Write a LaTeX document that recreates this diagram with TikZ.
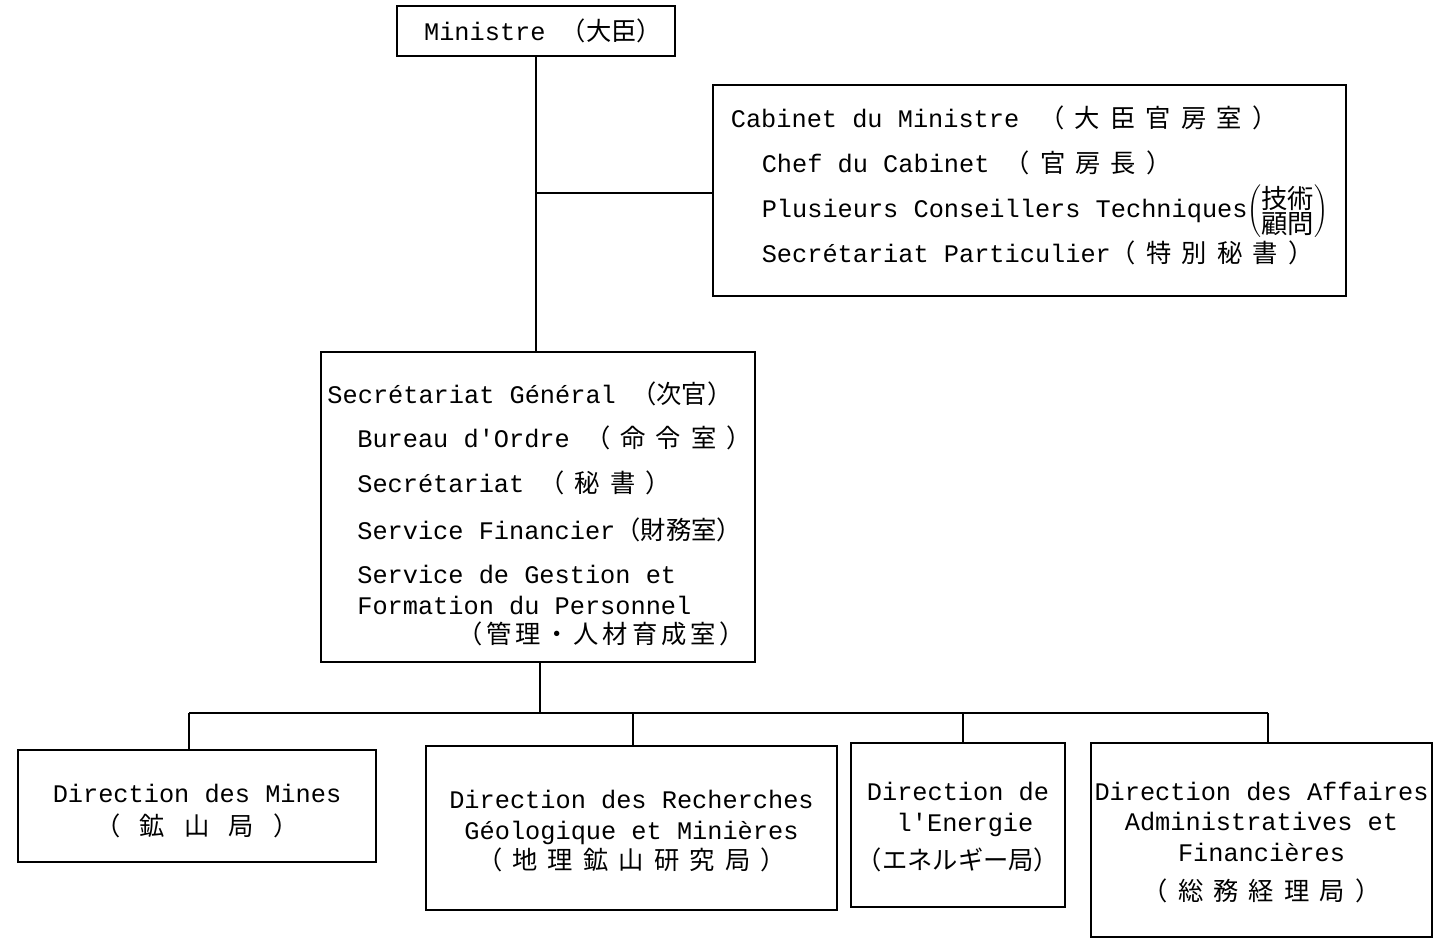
\documentclass[tikz,border=0pt]{standalone}
\usepackage{fontspec}
\setmainfont{Liberation Mono}[Ligatures=TeXOff]
\setmonofont{Liberation Mono}[Ligatures=TeXOff]
\newfontfamily\cjk{Noto Sans CJK JP}
\newfontfamily\cjkm[LetterSpace=15]{Noto Sans CJK JP}
\newfontfamily\cjks[LetterSpace=40]{Noto Sans CJK JP}
\def\pix{0.02cm}
\begin{document}
\begin{tikzpicture}[
  x=0.02cm, y=-0.02cm,
  font=\fontsize{14.4}{17.5}\selectfont,
  box/.style={draw, line width=1.6pt, inner sep=0pt, align=left},
  bloc/.style={box, align=center},
  lien/.style={line width=1.1pt}
]
\useasboundingbox (0,0) rectangle (1438,938);
% ministre et cabinet
\node[bloc, minimum width=278*\pix, minimum height=50*\pix] (min) at (536,31)
  {\hspace*{8pt}Ministre {\cjk（大臣）}};
\node[box, minimum width=633*\pix, minimum height=211*\pix,
  font=\fontsize{14.4}{25.6}\selectfont] (cab) at (1029.5,190.5)
  {Cabinet du Ministre\hspace{0.8em}{\cjks（大臣官房室）}\\
   \hspace*{17.6pt}Chef du Cabinet {\cjks（官房長）}\\
   \hspace*{17.6pt}Plusieurs Conseillers Techniques\smash{$\left(\vcenter{\baselineskip=14pt\lineskiplimit=-20pt
     \hbox{\cjk\fontsize{15}{15}\selectfont 技術}\hbox{\cjk\fontsize{15}{15}\selectfont 顧問}}\right)$}\\
   \hspace*{17.6pt}Secrétariat Particulier{\cjks（特別秘書）}\rule[-7.5pt]{0pt}{0pt}};
% secretariat general
\node[box, minimum width=434*\pix, minimum height=310*\pix] (sg) at (538,507)
  {\rule{0pt}{20pt}\hspace*{2pt}Secrétariat Général {\cjk（次官）}\\[8pt]
   \hspace*{19pt}Bureau d'Ordre {\cjks（命令室）}\\[8pt]
   \hspace*{19pt}Secrétariat {\cjks（秘書）}\\[9pt]
   \hspace*{19pt}Service Financier{\cjk（財務室）}\\[8pt]
   \hspace*{19pt}Service de Gestion et\\
   \hspace*{19pt}Formation du Personnel\\[-1pt]
   \hspace*{76pt}{\cjkm（管理・人材育成室）}};
% directions
\node[bloc, minimum width=358*\pix, minimum height=112*\pix] (mines) at (197,806)
  {\rule{0pt}{16pt}Direction des Mines\\[1pt]{\cjks（\kern11pt 鉱\kern11pt 山\kern11pt 局\kern11pt ）}};
\node[bloc, minimum width=411*\pix, minimum height=164*\pix] (rech) at (631.5,828)
  {\rule{0pt}{14pt}Direction des Recherches\\Géologique et Minières\\{\cjks（地理鉱山研究局）}};
\node[bloc, minimum width=214*\pix, minimum height=164*\pix] (ener) at (958,825)
  {\rule{0pt}{13pt}Direction de\\\hspace*{8pt}l'Energie\\[4.5pt]{\cjk（エネルギー局）}};
\node[bloc, minimum width=341*\pix, minimum height=194*\pix] (aff) at (1261.5,840)
  {\rule{0pt}{13pt}Direction des Affaires\\Administratives et\\Financières\\[4.5pt]{\cjks（総務経理局）}};
% liaisons
\draw[lien] (min.south) -- (min.south |- sg.north);
\coordinate (jc) at (536,193);
\draw[lien] (jc) -- (jc -| cab.west);
\coordinate (bus) at (540,713);
\draw[lien] (bus |- sg.south) -- (bus);
\draw[lien] (189,713) coordinate (bg) -- (1268,713) coordinate (bd);
\foreach \b/\x in {mines/189, rech/633, ener/963, aff/1268} {
  \coordinate (d\b) at (\x,713);
  \draw[lien] (d\b) -- (d\b |- \b.north);
}
\end{tikzpicture}
\end{document}
